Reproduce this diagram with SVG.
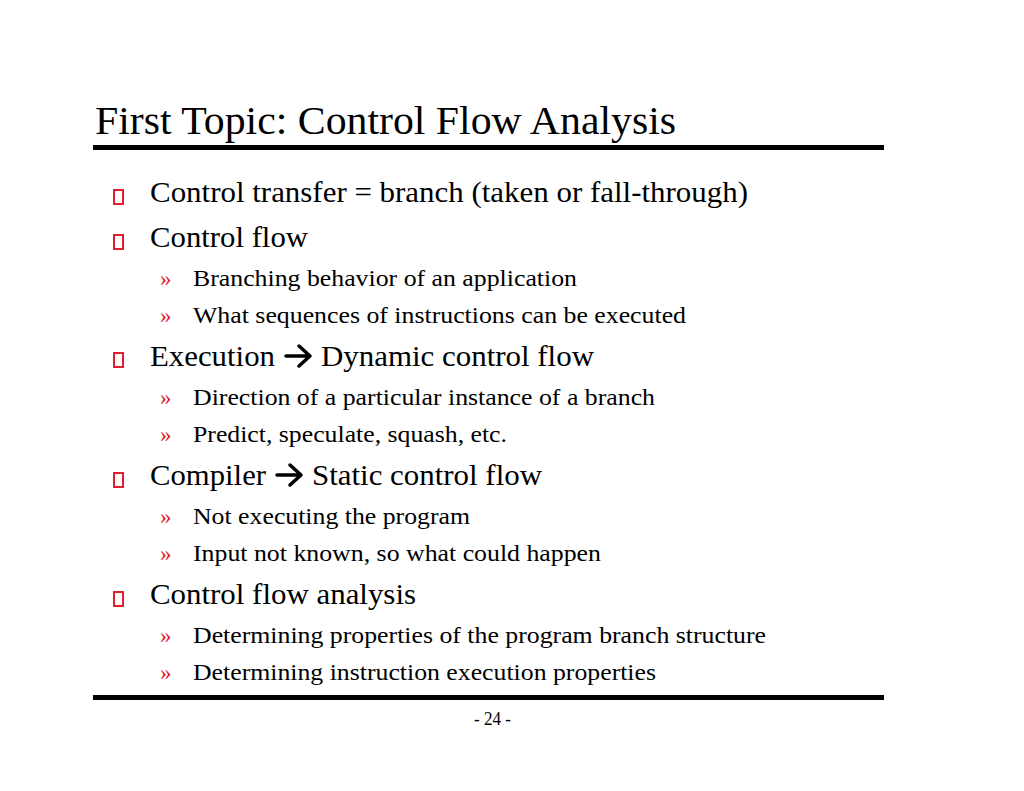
<svg xmlns="http://www.w3.org/2000/svg" width="1024" height="791" viewBox="0 0 1024 791">
<style>
text{font-family:"Liberation Serif","Times New Roman",serif;fill:#000}
.t{font-size:41px}.m{font-size:29px}.s{font-size:23px}.r{fill:#e0202a}
.b{fill:none;stroke:#e0202a;stroke-width:2}
.ar{fill:none;stroke:#000;stroke-width:3.5;stroke-linecap:round;stroke-linejoin:round}
</style>
<rect width="1024" height="791" fill="#fff"/>
<text class="t" x="95" y="134" textLength="581" lengthAdjust="spacingAndGlyphs">First Topic: Control Flow Analysis</text>
<rect x="93" y="145" width="791" height="5" fill="#000"/>
<rect x="93" y="695" width="791" height="5" fill="#000"/>
<g id="bullets">
<rect class="b" x="114" y="190" width="9" height="14"/>
<rect class="b" x="114" y="235" width="9" height="14"/>
<rect class="b" x="114" y="353" width="9" height="14"/>
<rect class="b" x="114" y="473" width="9" height="14"/>
<rect class="b" x="114" y="592" width="9" height="14"/>
</g>
<text class="m" x="150" y="202" textLength="598" lengthAdjust="spacingAndGlyphs">Control transfer = branch (taken or fall-through)</text>
<text class="m" x="150" y="247" textLength="158" lengthAdjust="spacingAndGlyphs">Control flow</text>
<text class="s r" x="160" y="286">»</text><text class="s" x="193" y="286" textLength="384" lengthAdjust="spacingAndGlyphs">Branching behavior of an application</text>
<text class="s r" x="160" y="323">»</text><text class="s" x="193" y="323" textLength="493" lengthAdjust="spacingAndGlyphs">What sequences of instructions can be executed</text>
<text class="m" x="150" y="366" textLength="125" lengthAdjust="spacingAndGlyphs">Execution</text>
<path class="ar" d="M286 356H309M299 346L310 356L299 366"/>
<text class="m" x="321" y="366" textLength="273" lengthAdjust="spacingAndGlyphs">Dynamic control flow</text>
<text class="s r" x="160" y="405">»</text><text class="s" x="193" y="405" textLength="462" lengthAdjust="spacingAndGlyphs">Direction of a particular instance of a branch</text>
<text class="s r" x="160" y="442">»</text><text class="s" x="193" y="442" textLength="314" lengthAdjust="spacingAndGlyphs">Predict, speculate, squash, etc.</text>
<text class="m" x="150" y="485" textLength="116" lengthAdjust="spacingAndGlyphs">Compiler</text>
<path class="ar" d="M277 475H300M290 465L301 475L290 485"/>
<text class="m" x="312" y="485" textLength="230" lengthAdjust="spacingAndGlyphs">Static control flow</text>
<text class="s r" x="160" y="524">»</text><text class="s" x="193" y="524" textLength="277" lengthAdjust="spacingAndGlyphs">Not executing the program</text>
<text class="s r" x="160" y="561">»</text><text class="s" x="193" y="561" textLength="408" lengthAdjust="spacingAndGlyphs">Input not known, so what could happen</text>
<text class="m" x="150" y="604" textLength="266" lengthAdjust="spacingAndGlyphs">Control flow analysis</text>
<text class="s r" x="160" y="643">»</text><text class="s" x="193" y="643" textLength="573" lengthAdjust="spacingAndGlyphs">Determining properties of the program branch structure</text>
<text class="s r" x="160" y="680">»</text><text class="s" x="193" y="680" textLength="463" lengthAdjust="spacingAndGlyphs">Determining instruction execution properties</text>
<text x="474" y="725" font-size="18" textLength="37" lengthAdjust="spacingAndGlyphs">- 24 -</text>
</svg>
